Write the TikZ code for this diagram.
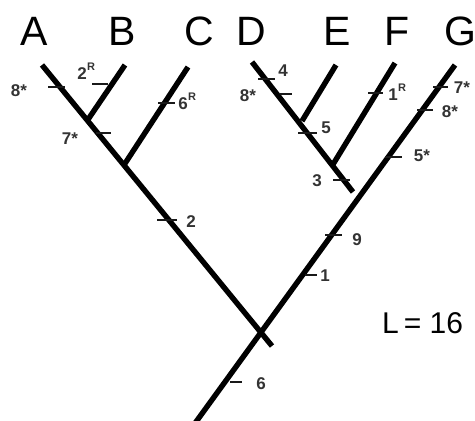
\documentclass[tikz,border=0pt]{standalone}
\usepackage{fontspec}
\setmainfont{Liberation Sans}
\begin{document}
\begin{tikzpicture}[x=1pt,y=-1pt,
  branch/.style={line width=5.4pt, line cap=butt},
  tickmark/.style={line width=2.8pt, black!90},
  taxon/.style={font=\fontsize{41}{41}\selectfont, anchor=base, inner sep=0pt},
  chr/.style={font=\bfseries\fontsize{17}{17}\selectfont, text=black!80, inner sep=0pt},
  sup/.style={font=\bfseries\fontsize{11}{11}\selectfont, text=black!80, inner sep=0pt}]
\useasboundingbox (0,0) rectangle (475,421);
% taxon labels
\node[taxon] (lA) at (34,45) {A};
\node[taxon] (lB) at (122,45) {B};
\node[taxon] (lC) at (199,45) {C};
\node[taxon] (lD) at (251,45) {D};
\node[taxon] (lE) at (337,45) {E};
\node[taxon] (lF) at (397,45) {F};
\node[taxon] (lG) at (460,45) {G};
% tree coordinates
\coordinate (A) at (42,65);
\coordinate (Aend) at (272,346);
\coordinate (B) at (125,65);
\coordinate (jB) at (87,121);
\coordinate (C) at (188,67);
\coordinate (jC) at (124,165);
\coordinate (D) at (252,62);
\coordinate (Dend) at (353,192);
\coordinate (E) at (336,65);
\coordinate (jE) at (302,121);
\coordinate (F) at (395,63);
\coordinate (jF) at (332,166);
\coordinate (G) at (455,65);
\coordinate (base) at (193,426);
% branches
\draw[branch] (A) -- (Aend);
\draw[branch] (B) -- (jB);
\draw[branch] (C) -- (jC);
\draw[branch] (D) -- (Dend);
\draw[branch] (E) -- (jE);
\draw[branch] (F) -- (jF);
\draw[branch] (G) -- (base);
% ticks
\draw[tickmark] (48,87) -- (65,87);
\draw[tickmark] (92,84) -- (108,84);
\draw[tickmark] (96,133) -- (111,133);
\draw[tickmark] (158,103) -- (175,103);
\draw[tickmark] (157,220) -- (177,220);
\draw[tickmark] (258,79) -- (275,79);
\draw[tickmark] (280,94) -- (292,94);
\draw[tickmark] (298,133) -- (317,133);
\draw[tickmark] (333,180) -- (350,180);
\draw[tickmark] (368,93) -- (383,93);
\draw[tickmark] (433,87) -- (448,87);
\draw[tickmark] (417,110) -- (433,110);
\draw[tickmark] (385,157) -- (402,157);
\draw[tickmark] (325,235) -- (342,235);
\draw[tickmark] (305,275) -- (317,275);
\draw[tickmark] (230,382) -- (242,382);
% character labels
\node[chr] (c8a) at (19,91) {8*};
\node[chr] (c2r) at (82,74) {2};
\node[sup] (c2rs) at (91,67) {R};
\node[chr] (c7a) at (70,139) {7*};
\node[chr] (c6r) at (183,104) {6};
\node[sup] (c6rs) at (192,97) {R};
\node[chr] (c2) at (191,222) {2};
\node[chr] (c4) at (283,71) {4};
\node[chr] (c8d) at (248,96) {8*};
\node[chr] (c5) at (326,128) {5};
\node[chr] (c3) at (317,181) {3};
\node[chr] (c1r) at (393,95) {1};
\node[sup] (c1rs) at (402,88) {R};
\node[chr] (c7g) at (462,88) {7*};
\node[chr] (c8g) at (450,112) {8*};
\node[chr] (c5g) at (422,156) {5*};
\node[chr] (c9) at (357,240) {9};
\node[chr] (c1) at (325,276) {1};
\node[chr] (c6) at (261,384) {6};
\node[font=\fontsize{30}{30}\selectfont, anchor=base west, inner sep=0pt] (len) at (382,333) {L\,= 16};
\end{tikzpicture}
\end{document}
